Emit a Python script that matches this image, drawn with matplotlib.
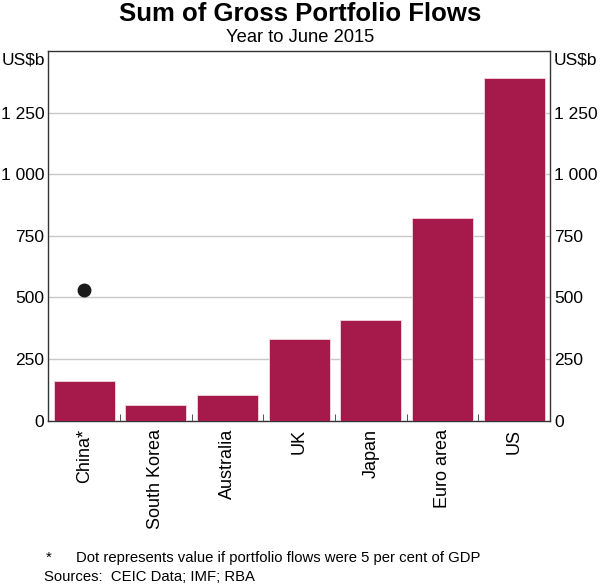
import numpy as np
import matplotlib.pyplot as plt

plt.rcParams['font.family'] = ['Liberation Sans', 'DejaVu Sans']

countries = ["China*", "South Korea", "Australia", "UK", "Japan", "Euro area", "US"]
flows = [161, 64, 104, 330, 409, 824, 1390]
china_dot = 530

bar_col = "#A6194B"
yticks = [0, 250, 500, 750, 1000, 1250]
ylabels = ["0", "250", "500", "750", "1 000", "1 250"]

fig = plt.figure(figsize=(6, 5.85), dpi=100)
ax = fig.add_axes([0.0805, 0.2809, 0.836, 0.6319])

x = np.arange(len(countries))
ax.bar(x, flows, width=0.85, color=bar_col, edgecolor="#f3d6de", linewidth=0.6, zorder=3)
ax.plot([0], [china_dot], "o", color="#1a1a1a", markersize=9, zorder=4)

ax.set_xlim(-0.5, len(countries) - 0.5)
ax.set_ylim(0, 1500)
ax.set_yticks(yticks)
ax.set_yticklabels(ylabels)
ax.grid(axis="y", color="#c8c8c8", linewidth=1, zorder=0)
ax.tick_params(axis="y", length=0, labelsize=12.5, pad=3, labelright=True, right=False)

ax.set_xticks(x)
ax.set_xticklabels(countries, rotation=90, fontsize=13)
ax.tick_params(axis="x", length=0, pad=6)
ax.set_xticks(np.arange(0.5, len(countries) - 1, 1), minor=True)
ax.tick_params(axis="x", which="minor", direction="in", length=5, color="#333333")

for s in ax.spines.values():
    s.set_color("#333333")
    s.set_linewidth(1)

fig.text(0.075, 0.897, "US$b", ha="right", va="center", fontsize=12.5)
fig.text(0.922, 0.897, "US$b", ha="left", va="center", fontsize=12.5)

fig.text(0.5, 0.976, "Sum of Gross Portfolio Flows", ha="center", va="center",
         fontsize=18.5, fontweight="bold")
fig.text(0.5, 0.936, "Year to June 2015", ha="center", va="center", fontsize=13.2)

fig.text(0.077, 0.046, "*", ha="left", va="center", fontsize=10.7)
fig.text(0.127, 0.046, "Dot represents value if portfolio flows were 5 per cent of GDP",
         ha="left", va="center", fontsize=10.7)
fig.text(0.073, 0.0137, "Sources:  CEIC Data; IMF; RBA", ha="left", va="center", fontsize=10.7)

fig.savefig("out.png", dpi=100)
